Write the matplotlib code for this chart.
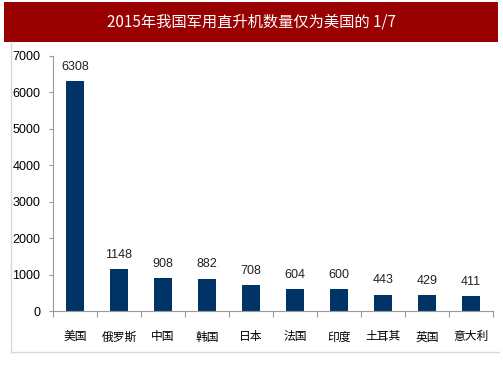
import matplotlib.pyplot as plt
from matplotlib.patches import Rectangle
from matplotlib.lines import Line2D

plt.rcParams['font.family'] = ['Liberation Sans', 'Noto Sans CJK SC', 'DejaVu Sans']

# datos
paises = ['美国', '俄罗斯', '中国', '韩国', '日本', '法国', '印度', '土耳其', '英国', '意大利']
cantidad = [6308, 1148, 908, 882, 708, 604, 600, 443, 429, 411]
titulo = '2015年我国军用直升机数量仅为美国的 1/7'

fig = plt.figure(figsize=(5.03, 3.78), dpi=100)

# banda roja del titulo
fig.patches.append(Rectangle((0.008, 0.889), 0.982, 0.106, transform=fig.transFigure,
                             facecolor='#990000', edgecolor='none'))
fig.text(0.5, 0.942, titulo, color='white', fontsize=11, ha='center', va='center',
         family=['Noto Sans CJK SC', 'DejaVu Sans'])

# marco gris
fig.lines.append(Line2D([0.022, 0.022], [0.069, 0.889], transform=fig.transFigure, color='#d9d9d9', lw=1))
fig.lines.append(Line2D([0.022, 0.992], [0.069, 0.069], transform=fig.transFigure, color='#d9d9d9', lw=1))

ax = fig.add_axes([0.1054, 0.1772, 0.875, 0.675])
x = range(len(paises))
ax.bar(x, cantidad, width=0.4, color='#003366')
for i, v in zip(x, cantidad):
    ax.text(i, v + 230, str(v), ha='center', va='bottom', fontsize=9, color='#222222')

ax.set_xlim(-0.5, len(paises) - 0.5)
ax.set_ylim(0, 7000)
ax.set_yticks(range(0, 7001, 1000))
ax.set_xticks([i - 0.5 for i in range(len(paises) + 1)], minor=False)
ax.set_xticklabels([])
ax.set_xticks(list(x), minor=True)
ax.set_xticklabels(paises, minor=True, family=['Noto Sans CJK SC', 'DejaVu Sans'], fontsize=8.5)
ax.tick_params(axis='x', which='minor', length=0, pad=14)
ax.tick_params(axis='x', which='major', length=4, color='#999999')
ax.tick_params(axis='y', length=3, color='#999999', labelsize=9, pad=6)

for s in ['top', 'right']:
    ax.spines[s].set_visible(False)
for s in ['left', 'bottom']:
    ax.spines[s].set_color('#999999')

fig.savefig('out.png', dpi=100)
